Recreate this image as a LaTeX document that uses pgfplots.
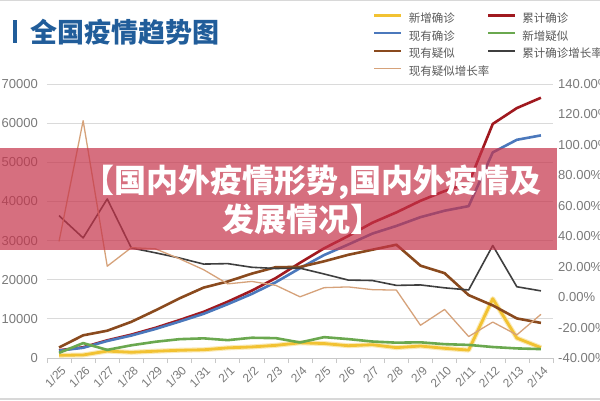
\documentclass[border=0pt]{standalone}
\usepackage{pgfplots}
\pgfplotsset{compat=1.18}
\usepackage{pgfplotstable}
\usepackage{fontspec}
\setmainfont{Liberation Sans}
\newfontfamily\cjk{Noto Sans CJK SC}
\definecolor{cYel}{HTML}{F2C232}
\definecolor{cRed}{HTML}{A0191F}
\definecolor{cBlue}{HTML}{4B78BC}
\definecolor{cGreen}{HTML}{6AA84F}
\definecolor{cBrown}{HTML}{8A4A1E}
\definecolor{cGray}{HTML}{3F3F3F}
\definecolor{cTan}{HTML}{D6A27A}
\definecolor{cTitle}{HTML}{215D9A}
\definecolor{cBan}{RGB}{198,51,74}
\definecolor{cGrid}{HTML}{DADADA}
\definecolor{cAxis}{HTML}{C8C8C8}
\definecolor{cTick}{HTML}{7A7A7A}
\definecolor{cLeg}{HTML}{5A5A5A}
\begin{document}
\pgfplotstableread{
x newc cum cur newsus cursus cumrate susrate
0 688 1975 1870 1309 2684 53.5 36.6
1 769 2744 2613 3806 5794 38.9 115.9
2 1771 4515 4349 2077 6973 64.5 20.3
3 1459 5974 5739 3248 9239 32.3 32.5
4 1737 7711 7417 4148 12167 29.1 31.7
5 1982 9692 9308 4812 15238 25.7 25.2
6 2102 11791 11289 5019 17988 21.7 18.0
7 2590 14380 13748 4562 19544 22.0 8.7
8 2829 17205 16369 5173 21558 19.6 10.3
9 3235 20438 19381 5072 23214 18.8 7.7
10 3887 24324 22942 3971 23260 19.0 0.2
11 3694 28018 26302 5328 24702 15.2 6.2
12 3143 31161 28985 4833 26359 11.2 6.7
13 3399 34546 31774 4214 27657 10.9 4.9
14 2656 37198 33738 3916 28942 7.7 4.6
15 3062 40171 35982 4008 23589 8.0 -18.5
16 2478 42638 37626 3536 21675 6.1 -8.1
17 2015 44653 38800 3342 16067 4.7 -25.9
18 15152 59804 52526 2807 13435 33.9 -16.4
19 5090 63851 55748 2450 10109 6.8 -24.8
20 2641 66492 56873 2277 8969 4.1 -11.3
}\data
\begin{tikzpicture}[x=1pt,y=1pt]
\useasboundingbox (0,0) rectangle (600,400);
\clip (0,0) rectangle (600,400);
\fill[white] (0,0) rectangle (600,400);
\draw[cAxis!70, line width=1.5pt] (0,399.3) -- (600,399.3);
\draw[cAxis!70, line width=1.5pt] (0,0.8) -- (600,0.8);
\pgfplotsset{myaxis/.style={at={(47pt,42pt)}, anchor=south west, scale only axis,
  width=506pt, height=274pt, xmin=-0.5, xmax=20.5,
  /pgf/number format/assume math mode=true, major tick length=0pt}}
\begin{axis}[myaxis,
  ymin=0, ymax=70000, ytick={0,10000,...,70000},
  axis x line*=bottom, axis y line*=left,
  y axis line style={draw=none},
  x axis line style={draw=cAxis, line width=0.8pt},
  ymajorgrids, major grid style={draw=cGrid, line width=0.8pt},
  xtick={0,...,20},
  xticklabels={1/25,1/26,1/27,1/28,1/29,1/30,1/31,2/1,2/2,2/3,2/4,2/5,2/6,2/7,2/8,2/9,2/10,2/11,2/12,2/13,2/14},
  minor xtick={-0.5,0.5,...,20.5}, minor x tick style={draw=cAxis, line width=0.6pt},
  minor tick length=5pt, tick align=outside,
  /pgf/number format/1000 sep={}, scaled y ticks=false,
  yticklabel style={font=\fontsize{13}{13}\selectfont, text=cTick, anchor=east, inner sep=0pt, xshift=-9pt},
  xticklabel style={font=\fontsize{12}{12}\selectfont, text=cTick, rotate=45, anchor=north east, inner sep=0pt, xshift=-4pt, yshift=-6pt},
  legend style={at={(0.644,1.259)}, anchor=north west, draw=none, fill=none, inner sep=0pt,
    font=\cjk\fontsize{11.5}{11.5}\selectfont, text=cLeg, row sep=6.2pt,
    nodes={inner sep=0pt, text height=9.2pt, text depth=2.3pt},
    /tikz/every odd column/.append style={column sep=6pt}},
  legend columns=2, legend cell align=left,
  legend image code/.code={\draw[#1] (0pt,3.5pt) -- (27pt,3.5pt);},
  line join=round
]
\addplot[forget plot, color=cYel!35, line width=5pt] table[x=x,y=newc]{\data};
\addplot[cYel, line width=2.8pt] table[x=x,y=newc]{\data};
\addlegendentry{\makebox[78pt][l]{新增确诊}}
\addplot[cRed, line width=2.6pt] table[x=x,y=cum]{\data};
\addlegendentry{累计确诊}
\addplot[cBlue, line width=2.6pt] table[x=x,y=cur]{\data};
\addlegendentry{\makebox[78pt][l]{现有确诊}}
\addplot[cGreen, line width=2.6pt] table[x=x,y=newsus]{\data};
\addlegendentry{新增疑似}
\addplot[cBrown, line width=2.6pt] table[x=x,y=cursus]{\data};
\addlegendentry{\makebox[78pt][l]{现有疑似}}
\addlegendimage{cGray, line width=1.6pt}
\addlegendentry{累计确诊增长率}
\addlegendimage{cTan, line width=1.3pt}
\addlegendentry{\makebox[78pt][l]{现有疑似增长率}}
\end{axis}
\begin{axis}[myaxis,
  ymin=-40, ymax=140, ytick={-40,-20,...,140},
  axis x line=none, axis y line*=right, y axis line style={draw=none},
  yticklabel={\pgfmathprintnumber[fixed,fixed zerofill,precision=2]{\tick}\%},
  yticklabel style={font=\fontsize{13}{13}\selectfont, text=cTick, anchor=west, inner sep=0pt, xshift=5pt},
  line join=round
]
\addplot[cGray, line width=1.6pt] table[x=x,y=cumrate]{\data};
\addplot[cTan, line width=1.3pt] table[x=x,y=susrate]{\data};
\end{axis}
% title
\fill[cTitle] (13,357) rectangle (17,380);
\node[anchor=west, inner sep=0pt, text=cTitle, font=\cjk\bfseries\fontsize{27}{27}\selectfont] at (30,368) {全国疫情趋势图};
% banner
\fill[cBan, opacity=0.7] (0,150) rectangle (557,252);
\node[inner sep=0pt, text=white, font=\cjk\bfseries\fontsize{32}{32}\selectfont] at (312,218) {【国内外疫情形势,国内外疫情及};
\node[inner sep=0pt, text=white, font=\cjk\bfseries\fontsize{32}{32}\selectfont] at (302,181) {发展情况】};
\end{tikzpicture}
\end{document}
